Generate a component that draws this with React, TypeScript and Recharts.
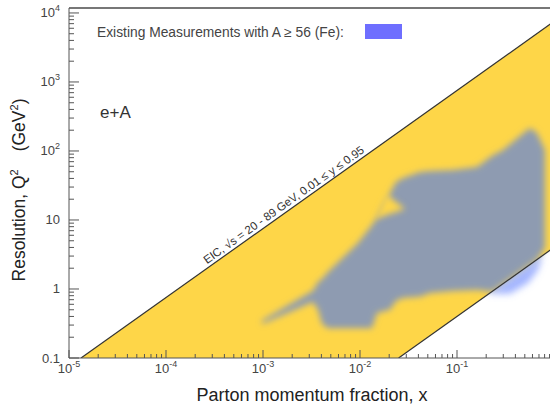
import React from 'react';
import { ComposedChart, Area, Line, XAxis, YAxis, ReferenceLine } from 'recharts';

const FONT = '"Liberation Sans", Arial, sans-serif';

// axis ticks
const xMajor = [1e-5, 1e-4, 1e-3, 1e-2, 1e-1, 1];
const xExp = ['-5', '-4', '-3', '-2', '-1', ''];
const yMajor = [0.1, 1, 10, 100, 1000, 10000];
const yBase = ['0.1', '1', '10', '10', '10', '10'];
const yExp = ['', '', '', '2', '3', '4'];
const minorSteps = [2, 3, 4, 5, 6, 7, 8, 9];

// EIC reach: band between the two kinematic limits
const bandX = [1.33e-5, 0.025, 1];
const bandLow = [0.1, 0.1, 4];
const bandHigh = [0.1, 188, 7525];
const upperEdgeX = [1.33e-5, 1];
const upperEdgeQ2 = [0.1, 7525];
const lowerEdgeX = [0.025, 1];
const lowerEdgeQ2 = [0.1, 4];

// existing measurements inside the band (grey)
const blobX = [0.00098, 0.00327, 0.00369, 0.00406, 0.00468, 0.00953, 0.0133, 0.015, 0.0204, 0.0235, 0.0277, 0.0416, 0.0527, 0.091, 0.161, 0.23, 0.298, 0.446, 0.566, 0.668, 0.807];
const blobLow = [0.31, 0.65, 0.5, 0.31, 0.27, 0.27, 0.27, 0.45, 0.5, 0.67, 0.74, 0.77, 0.875, 0.935, 0.97, 0.92, 1.19, 1.78, 2.26, 2.67, 3.93];
const blobHigh = [0.35, 0.94, 1.26, 1.4, 1.76, 4.64, 8.47, 11, 24.6, 35.6, 40.6, 49.7, 51.3, 53, 58.6, 85, 103, 165, 215, 182, 103];

// small yellow notch cutting into the grey region
const notchX = [0.0143, 0.0185, 0.0291];
const notchLow = [10.3, 11.7, 14.4];
const notchHigh = [10.3, 23.8, 14.4];

// measurements outside the band (blue)
const blueX = [0.219, 0.352, 0.54, 0.684, 0.752];
const blueLow = [0.85, 0.85, 1.22, 1.88, 2.9];
const blueHigh = [0.88, 1.41, 2.16, 2.74, 3.0];

const toRange = (xs: number[], lo: number[], hi: number[]) =>
  xs.map((x, i) => ({ x, range: [lo[i], hi[i]] }));
const toLine = (xs: number[], ys: number[]) => xs.map((x, i) => ({ x, q2: ys[i] }));

const bandData = toRange(bandX, bandLow, bandHigh);
const blobData = toRange(blobX, blobLow, blobHigh);
const notchData = toRange(notchX, notchLow, notchHigh);
const blueData = toRange(blueX, blueLow, blueHigh);
const upperData = toLine(upperEdgeX, upperEdgeQ2);
const lowerData = toLine(lowerEdgeX, lowerEdgeQ2);

const withMinor = (majors: number[]) => {
  const out: number[] = [];
  majors.forEach((m, i) => {
    out.push(m);
    if (i < majors.length - 1) minorSteps.forEach((s) => out.push(m * s));
  });
  return out;
};
const xTicks = withMinor(xMajor);
const yTicks = withMinor(yMajor);

const majorIndex = (list: number[], v: number) =>
  list.findIndex((m) => Math.abs(Math.log10(v) - Math.log10(m)) < 1e-6);

const XTick = (props: any) => {
  const { x, y, payload } = props;
  const i = majorIndex(xMajor, payload.value);
  return (
    <g>
      <line x1={x} x2={x} y1={y} y2={y - (i >= 0 ? 8 : 4)} stroke="#555" strokeWidth={1} />
      {i >= 0 && xExp[i] && (
        <text x={x} y={y + 15} textAnchor="middle" fontSize={13} fill="#444" fontFamily={FONT}>
          <tspan>10</tspan>
          <tspan dy={-6} fontSize={9}>{xExp[i]}</tspan>
        </text>
      )}
    </g>
  );
};

const YTick = (props: any) => {
  const { x, y, payload } = props;
  const i = majorIndex(yMajor, payload.value);
  return (
    <g>
      <line x1={x} x2={x + (i >= 0 ? 10 : 5)} y1={y} y2={y} stroke="#555" strokeWidth={1} />
      {i >= 0 && (
        <text x={x - 9} y={y + 4.5} textAnchor="end" fontSize={13} fill="#444" fontFamily={FONT}>
          <tspan>{yBase[i]}</tspan>
          {yExp[i] && <tspan dy={-6} fontSize={9}>{yExp[i]}</tspan>}
        </text>
      )}
    </g>
  );
};

export default function App() {
  return (
    <div style={{ position: 'absolute', left: 0, top: 0, width: 550, height: 407, overflow: 'hidden', background: '#fff' }}>
      <svg width={0} height={0} style={{ position: 'absolute' }}>
        <defs>
          <filter id="soft" x="-20%" y="-20%" width="140%" height="140%">
            <feGaussianBlur stdDeviation={3} />
          </filter>
          <filter id="softer" x="-30%" y="-30%" width="160%" height="160%">
            <feGaussianBlur stdDeviation={3.5} />
          </filter>
        </defs>
      </svg>
      <ComposedChart width={554} height={407} margin={{ top: 8, right: 0, bottom: 0, left: 0 }}>
        <XAxis
          type="number"
          dataKey="x"
          scale="log"
          domain={[1e-5, 1]}
          allowDataOverflow
          ticks={xTicks}
          interval={0}
          tickSize={0}
          tickMargin={0}
          tickLine={false}
          tick={<XTick />}
          height={49}
          axisLine={{ stroke: '#555' }}
        />
        <YAxis
          type="number"
          scale="log"
          domain={[0.1, 11800]}
          allowDataOverflow
          ticks={yTicks}
          interval={0}
          tickSize={0}
          tickMargin={0}
          tickLine={false}
          tick={<YTick />}
          width={69}
          axisLine={{ stroke: '#555' }}
        />
        <Area data={bandData} dataKey="range" type="linear" stroke="none" fill="#FED648" fillOpacity={1} isAnimationActive={false} />
        <Area data={blueData} dataKey="range" type="linear" stroke="none" fill="#7C95FF" fillOpacity={0.7} filter="url(#softer)" isAnimationActive={false} />
        <Area data={blobData} dataKey="range" type="linear" stroke="none" fill="#8E9BB1" fillOpacity={1} filter="url(#soft)" isAnimationActive={false} />
        <Area data={notchData} dataKey="range" type="linear" stroke="none" fill="#FED648" fillOpacity={1} filter="url(#soft)" isAnimationActive={false} />
        <Line data={upperData} dataKey="q2" type="linear" stroke="#333" strokeWidth={1.2} dot={false} isAnimationActive={false} />
        <Line data={lowerData} dataKey="q2" type="linear" stroke="#333" strokeWidth={1.2} dot={false} isAnimationActive={false} />
        <ReferenceLine y={11800} stroke="#777" strokeWidth={2} ifOverflow="visible" />
      </ComposedChart>
      <svg width={550} height={407} style={{ position: 'absolute', left: 0, top: 0, pointerEvents: 'none' }} fontFamily={FONT}>
        <text x={97} y={37} fontSize={13.8} fill="#444">Existing Measurements with A ≥ 56 (Fe):</text>
        <rect x={365} y={24} width={37} height={15} fill="#6E6EFF" />
        <text x={100} y={118} fontSize={17} fill="#333">e+A</text>
        <text x={286} y={208} fontSize={11.5} fill="#333" textAnchor="middle" transform="rotate(-35.4 286 208)">
          EIC, √s = 20 - 89 GeV, 0.01 ≤ y ≤ 0.95
        </text>
        <text x={312} y={401} fontSize={18} fill="#222" textAnchor="middle">Parton momentum fraction, x</text>
        <text x={25} y={190} fontSize={17.5} fill="#222" textAnchor="middle" transform="rotate(-90 25 190)">
          <tspan>Resolution, Q</tspan>
          <tspan dy={-7} fontSize={11}>2</tspan>
          <tspan dy={7} dx={18}>(GeV</tspan>
          <tspan dy={-7} fontSize={11}>2</tspan>
          <tspan dy={7}>)</tspan>
        </text>
      </svg>
    </div>
  );
}
